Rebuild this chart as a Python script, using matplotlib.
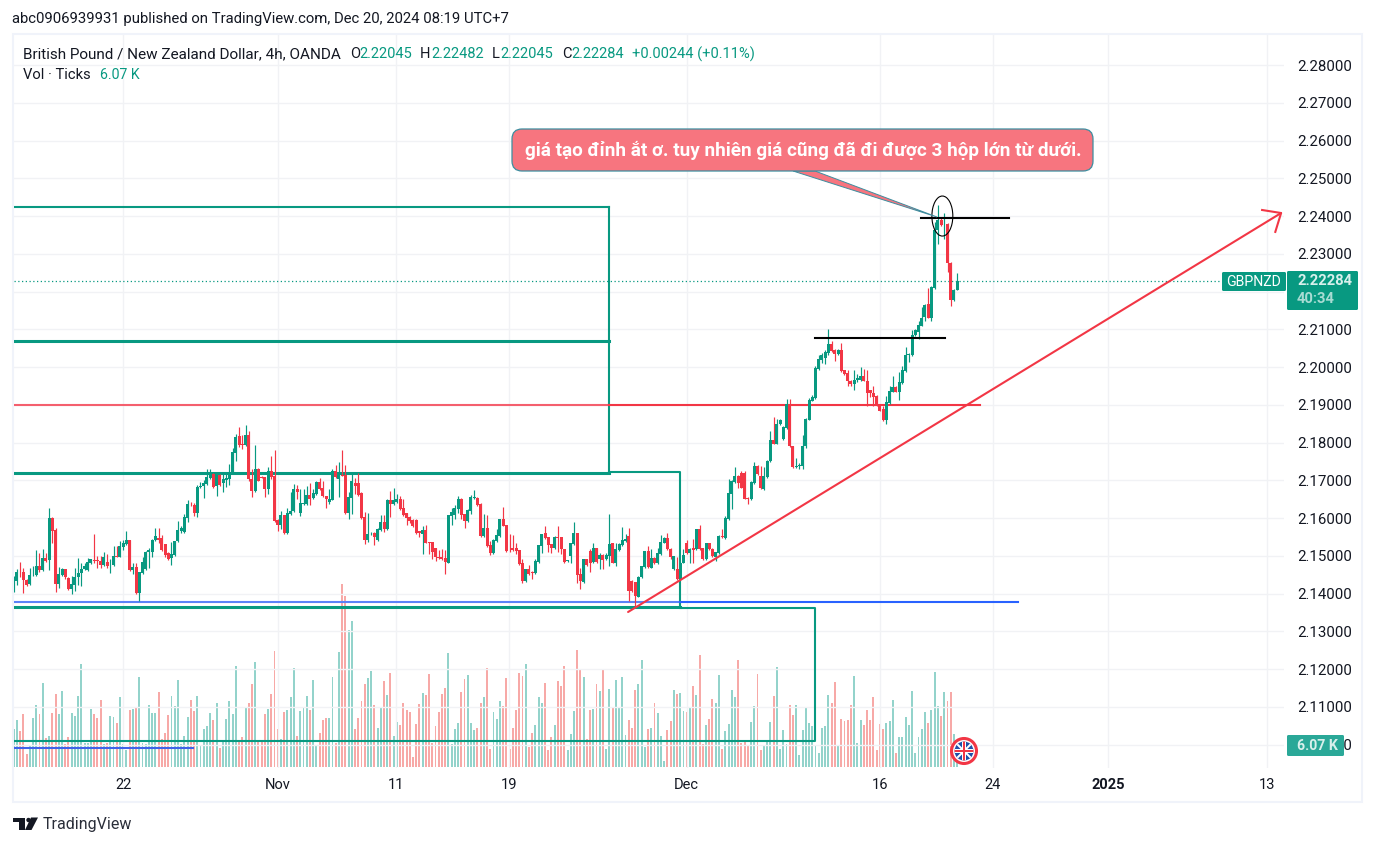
import matplotlib
matplotlib.use('Agg')
import matplotlib.pyplot as plt
from matplotlib.patches import Rectangle, FancyBboxPatch, Polygon, Circle, Arc
from matplotlib.transforms import Affine2D

plt.rcParams['font.family'] = ['Roboto', 'Noto Sans', 'DejaVu Sans']

# OHLC, in 1/10000 of a price unit
opens = [21410,21434,21458,21458,21436,21425,21449,21449,21474,21462,21494,21489,21600,21568,21425,21450,21464,21441,21412,21422,
         21443,21454,21465,21463,21481,21490,21488,21486,21475,21485,21475,21475,21499,21497,21523,21532,21542,21462,21470,21402,
         21455,21465,21509,21510,21542,21547,21547,21531,21507,21494,21502,21539,21566,21563,21600,21636,21635,21613,21682,21684,
         21690,21706,21717,21686,21714,21693,21702,21704,21720,21773,21818,21797,21793,21820,21704,21672,21730,21709,21708,21677,
         21724,21711,21595,21581,21608,21560,21611,21619,21677,21613,21637,21637,21661,21652,21664,21695,21680,21658,21642,21649,
         21725,21704,21714,21714,21613,21653,21693,21693,21666,21603,21542,21558,21560,21542,21568,21589,21571,21648,21637,21642,
         21650,21627,21613,21604,21595,21595,21566,21558,21568,21536,21536,21520,21497,21497,21494,21482,21606,21608,21624,21650,
         21611,21592,21619,21652,21653,21637,21552,21573,21528,21507,21539,21553,21597,21581,21514,21522,21520,21515,21481,21433,
         21464,21458,21455,21483,21526,21560,21550,21531,21520,21550,21550,21518,21486,21499,21531,21560,21451,21431,21491,21513,
         21484,21520,21491,21502,21491,21499,21533,21482,21516,21529,21540,21552,21433,21431,21392,21443,21470,21512,21469,21494,
         21481,21504,21535,21547,21518,21464,21465,21438,21482,21534,21507,21520,21518,21571,21520,21491,21534,21518,21496,21507,
         21552,21547,21597,21664,21696,21712,21720,21720,21654,21651,21693,21738,21712,21677,21709,21750,21807,21797,21848,21810,
         21839,21903,21790,21735,21738,21738,21790,21861,21911,21918,21995,22020,22025,22038,22061,22046,22035,22046,21992,21984,
         21964,21955,21967,21966,21976,21964,21938,21931,21923,21900,21889,21860,21904,21935,21947,21935,21958,21990,22032,22032,
         22084,22094,22110,22132,22168,22131,22210,22362,22389,22378,22380,22276,22177,22205]
highs = [21446,21465,21485,21469,21438,21467,21472,21515,21507,21518,21507,21627,21604,21575,21470,21469,21466,21443,21447,21469,
         21494,21480,21482,21494,21493,21558,21500,21500,21509,21506,21491,21525,21525,21539,21541,21566,21543,21482,21481,21457,
         21496,21512,21520,21544,21575,21573,21555,21531,21509,21538,21539,21593,21580,21611,21648,21643,21640,21689,21695,21702,
         21729,21729,21719,21720,21716,21720,21717,21743,21787,21823,21841,21820,21847,21832,21730,21794,21732,21711,21710,21735,
         21765,21781,21597,21619,21608,21628,21668,21690,21688,21677,21677,21684,21693,21677,21699,21705,21699,21659,21677,21730,
         21741,21748,21781,21741,21668,21717,21706,21720,21668,21615,21613,21562,21562,21573,21608,21608,21650,21672,21680,21664,
         21659,21650,21613,21606,21597,21597,21566,21579,21581,21536,21536,21520,21516,21518,21515,21608,21626,21635,21659,21654,
         21611,21623,21661,21674,21655,21639,21611,21608,21540,21544,21571,21597,21629,21583,21557,21555,21534,21515,21493,21466,
         21476,21460,21491,21530,21558,21579,21551,21531,21553,21579,21551,21519,21489,21535,21589,21560,21469,21493,21493,21518,
         21535,21522,21507,21504,21507,21611,21533,21535,21533,21576,21558,21573,21435,21431,21447,21474,21514,21526,21518,21496,
         21522,21555,21549,21560,21520,21500,21497,21484,21518,21543,21520,21544,21571,21581,21522,21535,21535,21520,21511,21554,
         21571,21606,21704,21700,21735,21713,21726,21726,21656,21697,21748,21740,21739,21735,21753,21832,21867,21863,21862,21843,
         21916,21916,21792,21760,21745,21820,21866,21918,21925,22003,22032,22036,22045,22101,22068,22047,22047,22064,21993,21991,
         21966,21991,21982,22000,21995,21991,21939,21951,21925,21901,21898,21924,21951,21977,21949,21986,22004,22054,22037,22097,
         22100,22123,22159,22167,22210,22216,22385,22429,22398,22409,22382,22277,22207,22248]
lows = [21404,21422,21443,21401,21420,21423,21447,21447,21456,21460,21485,21462,21533,21404,21416,21447,21438,21410,21399,21407,
        21422,21420,21462,21461,21479,21482,21468,21469,21473,21467,21455,21473,21496,21496,21516,21530,21460,21451,21400,21381,
        21451,21463,21469,21497,21540,21535,21513,21498,21489,21476,21500,21537,21560,21561,21591,21633,21606,21604,21681,21654,
        21689,21704,21681,21658,21686,21668,21683,21688,21718,21751,21788,21783,21791,21698,21657,21668,21697,21705,21657,21664,
        21704,21590,21566,21571,21558,21558,21609,21617,21650,21606,21635,21635,21635,21650,21662,21675,21657,21628,21637,21647,
        21707,21655,21711,21612,21597,21611,21664,21659,21598,21531,21537,21556,21528,21540,21566,21564,21569,21604,21635,21641,
        21622,21606,21581,21586,21577,21558,21549,21504,21534,21504,21491,21486,21493,21488,21451,21481,21581,21597,21613,21597,
        21573,21590,21611,21650,21633,21550,21550,21524,21502,21505,21537,21551,21578,21511,21509,21513,21504,21476,21428,21431,
        21450,21438,21453,21481,21507,21545,21509,21507,21518,21509,21504,21481,21484,21481,21529,21429,21412,21429,21473,21456,
        21482,21482,21465,21465,21489,21473,21481,21473,21514,21527,21538,21381,21404,21367,21390,21442,21468,21469,21467,21479,
        21479,21503,21534,21516,21491,21462,21436,21436,21481,21505,21482,21482,21516,21516,21489,21489,21516,21498,21487,21505,
        21547,21545,21596,21624,21694,21681,21679,21650,21637,21649,21691,21715,21677,21675,21707,21748,21795,21795,21846,21808,
        21837,21788,21733,21733,21730,21730,21785,21859,21909,21916,21993,22010,22008,22031,22039,22017,22033,21988,21979,21951,
        21951,21938,21960,21964,21962,21898,21920,21898,21898,21883,21858,21849,21902,21933,21933,21914,21956,21988,22013,22030,
        22082,22075,22108,22121,22130,22122,22208,22327,22374,22340,22252,22163,22175,22204]
closes = [21434,21458,21456,21436,21423,21450,21450,21474,21462,21494,21487,21600,21566,21425,21451,21465,21445,21412,21425,21445,
          21454,21466,21473,21483,21491,21487,21486,21475,21497,21473,21477,21499,21497,21526,21534,21542,21462,21470,21402,21457,
          21485,21510,21515,21542,21552,21543,21515,21502,21491,21504,21539,21568,21573,21603,21637,21635,21613,21682,21685,21693,
          21709,21717,21682,21714,21688,21704,21706,21721,21774,21815,21793,21794,21820,21704,21672,21730,21698,21707,21677,21724,
          21708,21592,21581,21608,21560,21613,21620,21677,21668,21640,21640,21661,21650,21666,21695,21677,21658,21650,21650,21725,
          21709,21714,21712,21613,21655,21698,21686,21661,21600,21542,21558,21559,21550,21571,21589,21571,21648,21637,21648,21650,
          21624,21608,21600,21592,21579,21560,21560,21568,21535,21534,21510,21497,21495,21491,21483,21608,21616,21627,21650,21608,
          21592,21621,21656,21655,21635,21552,21573,21526,21507,21542,21555,21597,21580,21512,21512,21515,21512,21478,21433,21465,
          21451,21455,21486,21528,21558,21547,21528,21520,21550,21548,21518,21483,21488,21534,21560,21449,21433,21491,21475,21482,
          21520,21485,21502,21489,21502,21531,21482,21518,21531,21542,21544,21406,21406,21394,21445,21473,21512,21471,21494,21481,
          21507,21536,21547,21518,21497,21499,21438,21482,21502,21507,21518,21515,21571,21518,21491,21534,21518,21500,21509,21552,
          21549,21600,21666,21698,21712,21693,21681,21651,21651,21696,21738,21717,21679,21711,21751,21807,21797,21850,21860,21842,
          21903,21790,21735,21738,21740,21790,21862,21913,21920,21997,22022,22031,22039,22061,22043,22035,22046,21990,21981,21964,
          21955,21966,21970,21976,21964,21931,21931,21921,21900,21884,21860,21907,21937,21947,21935,21960,21992,22032,22035,22085,
          22099,22112,22130,22165,22131,22213,22362,22389,22376,22380,22276,22177,22205,22228]

# tick volume in thousands
volumes = [10.4,12.9,9.8,14.5,3.7,6.0,13.4,17.0,14.5,23.1,7.9,8.5,14.8,20.1,14.5,20.9,6.4,8.2,14.8,14.0,
           19.5,28.3,6.5,6.5,15.9,14.5,13.4,18.4,6.4,6.6,14.0,13.7,12.1,19.2,6.4,4.6,15.6,15.9,16.5,24.7,
           6.5,6.3,17.0,14.8,14.8,20.6,7.6,9.3,14.3,19.5,16.7,23.9,6.3,8.5,13.7,18.4,15.4,19.5,6.0,10.4,
           11.2,14.8,12.9,17.6,5.2,6.9,13.2,18.1,14.5,27.8,7.4,8.2,16.5,17.6,22.8,28.9,6.9,6.9,14.5,15.9,
           20.1,31.9,10.4,7.6,15.1,15.6,19.2,27.2,8.5,15.4,16.5,19.5,15.6,23.9,5.7,9.3,12.9,13.4,13.4,24.7,
           6.5,31.6,50.4,47.1,37.7,40.2,10.4,13.4,18.1,22.8,24.5,26.4,17.0,10.7,16.5,23.6,19.8,25.9,8.5,12.3,
           11.5,17.6,15.6,15.1,2.7,11.8,17.3,20.3,19.8,25.6,6.5,11.2,15.1,20.1,21.7,31.4,6.3,10.4,12.1,20.6,
           24.2,25.3,12.1,10.1,10.7,17.6,19.2,27.2,5.0,15.1,13.2,18.1,
           16.7,24.5,4.9,10.9,15.6,25.9,25.0,28.3,5.4,9.3,11.5,19.2,17.6,23.1,4.6,8.2,11.5,23.6,22.3,27.8,
           4.6,9.0,15.4,32.2,27.0,24.7,7.6,15.6,15.9,22.8,20.9,26.7,4.9,21.4,16.2,23.9,16.5,24.7,8.7,12.9,
           10.7,21.2,22.8,29.4,5.4,10.4,10.9,17.6,14.8,8.5,1.6,10.1,12.6,21.2,20.1,20.3,15.4,15.1,16.5,22.3,
           19.8,30.8,6.3,11.5,13.2,18.7,17.6,25.3,4.9,9.8,11.8,21.2,19.2,29.4,6.5,7.0,6.0,12.3,16.7,25.6,
           4.6,6.0,7.4,12.3,19.5,27.5,4.9,10.1,6.3,17.0,14.3,17.0,3.2,10.1,16.5,12.1,11.2,6.0,3.8,10.7,
           11.2,19.8,17.6,23.4,6.0,13.2,12.6,12.9,17.0,25.0,6.5,12.9,11.5,15.6,12.9,19.2,4.6,11.8,10.4,12.1,
           12.6,18.4,3.8,8.2,8.2,13.7,11.5,20.9,4.0,8.2,10.4,15.1,12.1,15.6,26.1,16.9,14.0,20.6,18.1,20.6,
           9.0,6.07]

price_ticks = [2.28, 2.27, 2.26, 2.25, 2.24, 2.23, 2.22, 2.21, 2.20, 2.19, 2.18, 2.17, 2.16, 2.15, 2.14, 2.13, 2.12, 2.11, 2.10]
date_bars = [34, 82, 118.7, 153.8, 209, 269, 304.1, 339.8, 389.2]
date_labels = ['22', 'Nov', '11', '19', 'Dec', '16', '24', '2025', '13']
last_price = 2.22284

TEAL = '#089981'
RED = '#f23645'
TEXT = '#131722'
W, H = 1376, 846

# pixel coordinates from the top left, only for the chrome round the chart
px = Affine2D().scale(1, -1).translate(0, H)

fig = plt.figure(figsize=(W / 100, H / 100), dpi=100, facecolor='white')
rect = [14 / W, (H - 768) / H, (1284 - 14) / W, (768 - 35) / H]
ax = fig.add_axes(rect, zorder=2)
ax_vol = fig.add_axes(rect, zorder=1, sharex=ax)
ax.patch.set_visible(False)
ax_vol.axis('off')

n = len(closes)
bars = list(range(n))
o = [v / 10000 for v in opens]
h = [v / 10000 for v in highs]
l = [v / 10000 for v in lows]
c = [v / 10000 for v in closes]
colors = [TEAL if c[i] >= o[i] else RED for i in bars]

ax.set_xlim(0.09, 394.5)
ax.set_ylim(2.28 - (768 - 65) / 3776, 2.28 + 30 / 3776)
ax_vol.set_ylim(-0.276, 202)

# volume
vol_colors = ['#93d3cb' if col == TEAL else '#f7a9a7' for col in colors]
ax_vol.bar(bars, volumes, width=0.6, color=vol_colors, linewidth=0)

# grid and axes, the 2.22000 label sits under the price tag so it stays blank
ax.set_yticks(price_ticks, ['' if p == 2.22 else f'{p:.5f}' for p in price_ticks])
ax.set_xticks(date_bars, date_labels)
ax.yaxis.tick_right()
ax.grid(True, color='#f1f2f5', linewidth=1, zorder=0)
ax.tick_params(axis='y', length=0, pad=9.2, labelsize=10.8, labelcolor=TEXT)
ax.tick_params(axis='x', length=0, pad=7.5, labelsize=10.5, labelcolor=TEXT)
ax.get_xticklabels()[7].set_fontweight('bold')
for s in ax.spines.values():
    s.set_visible(False)

# drawings, x in bars and y in price
box_x1, box_x2, box_x3 = 184.9, 206.9, 248.8
lw2 = 1.5
lw3 = 2.2
ax.plot([0, box_x1], [2.2424, 2.2424], color=TEAL, lw=lw2, zorder=3)
ax.plot([0, box_x1], [2.2069, 2.2069], color=TEAL, lw=lw3, zorder=3)
ax.plot([0, box_x1], [2.1719, 2.1719], color=TEAL, lw=lw3, zorder=3)
ax.plot([box_x1, box_x1], [2.2424, 2.1719], color=TEAL, lw=lw2, zorder=3)
ax.plot([box_x1, box_x2, box_x2], [2.1722, 2.1722, 2.1365], color=TEAL, lw=lw2, zorder=3)
ax.plot([0, box_x2], [2.1365, 2.1365], color=TEAL, lw=lw3, zorder=3)
ax.plot([box_x2, box_x3, box_x3, 0], [2.1362, 2.1362, 2.1010, 2.1010], color=TEAL, lw=lw2, zorder=3)

ax.plot([0, box_x1], [2.19, 2.19], color='#f45f6e', lw=lw2, zorder=3)
ax.plot([box_x1, 300.1], [2.19, 2.19], color=RED, lw=lw2, zorder=3)
ax.plot([0, box_x2], [2.1378, 2.1378], color='#5b82f7', lw=lw2, zorder=3)
ax.plot([box_x2, 311.9], [2.1378, 2.1378], color='#2962ff', lw=lw2, zorder=3)
ax.plot([0, 55.7], [2.0991, 2.0991], color='#3f63e8', lw=lw2, zorder=3)

ax.plot([0, 394.5], [last_price, last_price], color=TEAL, lw=0.9, ls=(0, (1, 2)), zorder=3)

# candles
ax.vlines(bars, l, h, colors=colors, linewidth=0.85, zorder=4)
ax.bar(bars, [abs(c[i] - o[i]) for i in bars], bottom=[min(c[i], o[i]) for i in bars],
       width=0.93, color=colors, linewidth=0, zorder=5)

ax.plot([248.8, 289.2], [2.2077, 2.2077], color='black', lw=lw2, zorder=6)
ax.plot([281.8, 309.1], [2.2395, 2.2395], color='black', lw=lw2, zorder=6)
ax.add_patch(Arc((288.4, 2.2400), 6.5, 0.0106, theta1=130, theta2=450, color='black', lw=0.8, zorder=6))

ax.plot([190.8, 393.6], [2.13514, 2.2408], color=RED, lw=1.5, zorder=6, solid_capstyle='round')
ax.plot([387.7, 393.6, 391.8], [2.2416, 2.2408, 2.2358], color=RED, lw=1.5, zorder=6)

# callout
fig.add_artist(Polygon([(793, 171), (815, 171), (937, 217)], closed=True, transform=px,
                       facecolor='#f7757f', edgecolor='#3d8ea0', linewidth=0.7, zorder=7))
fig.add_artist(FancyBboxPatch((512, 129), 581, 42, boxstyle='round,pad=0,rounding_size=10', transform=px,
                              facecolor='#f7757f', edgecolor='#3d8ea0', linewidth=0.9, zorder=7))


def put(x, y, s, **kw):
    kw.setdefault('color', TEXT)
    kw.setdefault('fontsize', 10.5)
    kw.setdefault('va', 'center')
    kw.setdefault('zorder', 10)
    fig.text(x, y, s, transform=px, **kw)


put(525, 150, 'giá tạo đỉnh ắt ơ. tuy nhiên giá cũng đã đi được 3 hộp lớn từ dưới.', color='white',
    fontsize=13.55, fontweight='bold')

# outer frame
fig.add_artist(Rectangle((13, 34), 1349, 768, transform=px, fill=False, edgecolor='#f0f3fa', linewidth=1.5, zorder=1))

# header text
put(12, 19, 'abc0906939931 published on TradingView.com, Dec 20, 2024 08:19 UTC+7', fontsize=10.75)
put(23, 54, 'British Pound / New Zealand Dollar, 4h, OANDA', fontsize=11)
for x, s in [(350, 'O'), (420, 'H'), (492, 'L'), (562, 'C')]:
    put(x, 54, s)
for x, s in [(359, '2.22045'), (431, '2.22482'), (500, '2.22045'), (571, '2.22284'), (632, '+0.00244 (+0.11%)')]:
    put(x, 54, s, color=TEAL)
put(23, 75, 'Vol · Ticks', fontsize=10.6)
put(100, 75, '6.07 K', color=TEAL, fontsize=10.2)

# scale tags
fig.add_artist(FancyBboxPatch((1222, 272), 64, 19, boxstyle='round,pad=0,rounding_size=1.5', transform=px,
                              facecolor=TEAL, edgecolor='none', zorder=9))
fig.add_artist(FancyBboxPatch((1287, 271), 71, 39, boxstyle='round,pad=0,rounding_size=1.5', transform=px,
                              facecolor=TEAL, edgecolor='none', zorder=9))
fig.add_artist(FancyBboxPatch((1287, 735), 57, 21, boxstyle='round,pad=0,rounding_size=1.5', transform=px,
                              facecolor='#2aa898', edgecolor='none', zorder=9))
put(1226, 282, 'GBPNZD', color='white', fontsize=10.2)
put(1297, 281, '2.22284', color='#d9f0ec', fontsize=10.6, fontweight='bold')
put(1297, 299, '40:34', color='#a8dcd3', fontsize=10.6, fontweight='bold')
put(1297, 746, '6.07 K', color='#d9f0ec', fontsize=10.2, fontweight='bold')

# flag badge
fig.add_artist(Circle((964, 751), 12.5, transform=px, facecolor='white', edgecolor=RED, linewidth=2.2, zorder=8))
inner = Circle((964, 751), 9.5, transform=px, facecolor='#1f4fa8', edgecolor='none', zorder=8)
fig.add_artist(inner)
for a, b, col, lw in [((955, 742), (973, 760), 'white', 2), ((973, 742), (955, 760), 'white', 2),
                      ((964, 740), (964, 762), 'white', 4), ((953, 751), (975, 751), 'white', 4),
                      ((964, 740), (964, 762), RED, 2), ((953, 751), (975, 751), RED, 2)]:
    line = plt.Line2D([a[0], b[0]], [a[1], b[1]], transform=px, color=col, lw=lw * 0.72, zorder=8)
    fig.add_artist(line)
    line.set_clip_path(inner)

# logo
LOGO = '#131722'
fig.add_artist(Polygon([(13, 817.5), (25, 817.5), (25, 830), (19, 830), (19, 822), (13, 822)], closed=True,
                       transform=px, facecolor=LOGO, edgecolor='none'))
fig.add_artist(Polygon([(31, 817.5), (38, 817.5), (31.5, 830), (25, 830)], closed=True,
                       transform=px, facecolor=LOGO, edgecolor='none'))
fig.add_artist(Circle((28.5, 820), 2.2, transform=px, facecolor=LOGO, edgecolor='none'))
put(43, 824.5, 'TradingView', fontsize=11.5, color='#2a2e39')

fig.savefig('out.png', dpi=100, facecolor='white')
